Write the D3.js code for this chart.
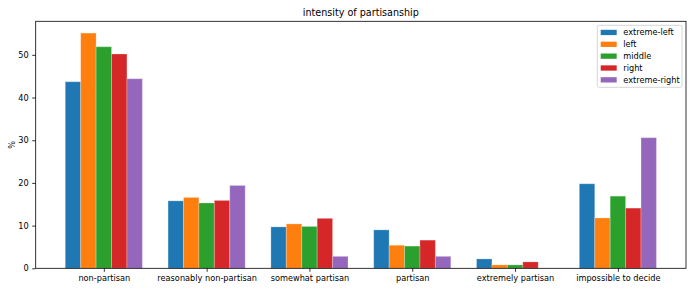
<!DOCTYPE html>
<html><head><meta charset="utf-8">
<script src="https://cdn.jsdelivr.net/npm/d3@7"></script>
<style>body{margin:0;background:#fff}svg{display:block;font-family:"DejaVu Sans",sans-serif}</style>
</head><body>
<script>
const categories = ["non-partisan","reasonably non-partisan","somewhat partisan","partisan","extremely partisan","impossible to decide"];
const seriesNames = ["extreme-left","left","middle","right","extreme-right"];
const extremeLeft  = [43.7, 15.8, 9.7, 9.0, 2.2, 19.8];
const left         = [55.1, 16.6, 10.4, 5.4, 0.8, 11.8];
const middle       = [51.9, 15.3, 9.8, 5.2, 0.8, 16.9];
const right        = [50.2, 15.9, 11.7, 6.6, 1.5, 14.1];
const extremeRight = [44.4, 19.4, 2.8, 2.8, 0.0, 30.6];
const yTicks = [0, 10, 20, 30, 40, 50];
const colors = ["#1f77b4","#ff7f0e","#2ca02c","#d62728","#9467bd"];
const series = [extremeLeft, left, middle, right, extremeRight];

const W = 698, H = 291;
const m = {left: 35.7, right: 698 - 686, top: 21.3, bottom: 291 - 268.3};
const svg = d3.select("body").append("svg").attr("width", W).attr("height", H);
const iw = W - m.left - m.right, ih = H - m.top - m.bottom;
const g = svg.append("g").attr("transform", `translate(${m.left},${m.top})`);

const bw = 0.15;
const x = d3.scaleLinear().domain([-0.6625, 5.6625]).range([0, iw]);
const ymax = 55.1 * 1.05;
const y = d3.scaleLinear().domain([0, ymax]).range([ih, 0]);

series.forEach((vals, si) => {
  g.selectAll(null).data(vals).enter().append("rect")
    .attr("x", (d, i) => x(i + (si - 2) * bw - bw / 2))
    .attr("width", x(bw) - x(0))
    .attr("y", d => y(d))
    .attr("height", d => y(0) - y(d))
    .attr("fill", colors[si])
    .attr("stroke", d => d > 0 ? "rgba(255,255,255,0.25)" : "none")
    .attr("stroke-width", 1);
});

const fs = 8.2;
const xAxis = d3.axisBottom(x).tickValues(d3.range(categories.length)).tickFormat(i => categories[i]).tickSize(3.5).tickPadding(3);
const gx = g.append("g").attr("transform", `translate(0,${ih})`).call(xAxis);
const yAxis = d3.axisLeft(y).tickValues(yTicks).tickSize(3.5).tickPadding(3.5);
const gy = g.append("g").call(yAxis);
[gx, gy].forEach(a => {
  a.selectAll("text").attr("font-family", "DejaVu Sans").attr("font-size", fs).attr("fill", "#000");
  a.selectAll("line").attr("stroke", "#000").attr("stroke-width", 0.8);
  a.select(".domain").remove();
});

g.append("rect").attr("x", 0).attr("y", 0).attr("width", iw).attr("height", ih)
  .attr("fill", "none").attr("stroke", "#000").attr("stroke-width", 0.8);

svg.append("text").attr("x", m.left + iw / 2).attr("y", 15.8).attr("text-anchor", "middle")
  .attr("font-size", 9.6).attr("fill", "#000").text("intensity of partisanship");

svg.append("text").attr("transform", `translate(14.5,${m.top + ih / 2}) rotate(-90)`)
  .attr("text-anchor", "middle").attr("font-size", fs).attr("fill", "#000").text("%");

// legend
const lg = svg.append("g");
lg.append("rect").attr("x", 597.3).attr("y", 25.3).attr("width", 84.7).attr("height", 62)
  .attr("rx", 2).attr("fill", "#fff").attr("fill-opacity", 0.8).attr("stroke", "#ccc").attr("stroke-width", 0.8);
seriesNames.forEach((n, i) => {
  const cy = 32.3 + i * 11.85;
  lg.append("rect").attr("x", 600.7).attr("y", cy - 2.5).attr("width", 16).attr("height", 5.3).attr("fill", colors[i]);
  lg.append("text").attr("x", 623.3).attr("y", cy + 2.9).attr("font-size", fs).attr("fill", "#000").text(n);
});
</script>
</body></html>
